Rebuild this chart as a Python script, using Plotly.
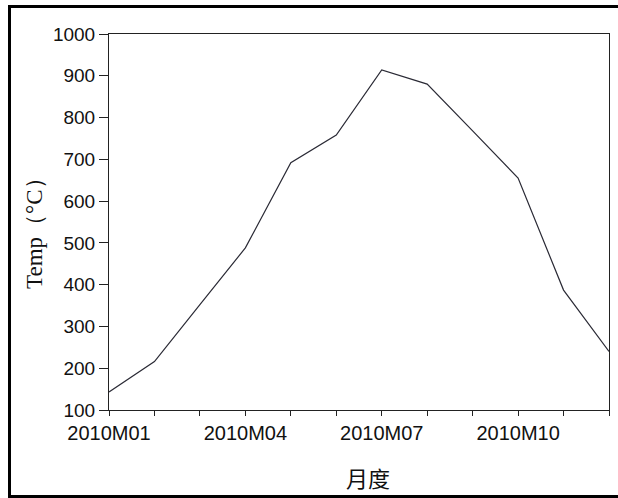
import plotly.graph_objects as go

months = ["2010M01", "2010M02", "2010M03", "2010M04", "2010M05", "2010M06",
          "2010M07", "2010M08", "2010M09", "2010M10", "2010M11", "2010M12"]
temps = [143, 216, 352, 488, 692, 758, 914, 880, 768, 655, 387, 240]
labeled_months = ["2010M01", "2010M04", "2010M07", "2010M10"]
y_ticks = [100, 200, 300, 400, 500, 600, 700, 800, 900, 1000]

W, H = 618, 498
L, R, T, B = 109, 609, 34, 410

def px(x):
    return (x - L) / (R - L)

def py(y):
    return (B - y) / (B - T)

fig = go.Figure()
fig.add_trace(go.Scatter(x=months, y=temps, mode="lines",
                         line=dict(color="#2a2a35", width=1.2),
                         showlegend=False, hoverinfo="skip"))

tick_font = dict(family="Liberation Sans, Arial, sans-serif", size=19, color="#111")

fig.update_layout(
    width=W, height=H,
    margin=dict(l=L, r=W - R, t=T, b=H - B, pad=0),
    paper_bgcolor="white", plot_bgcolor="white",
    xaxis=dict(
        type="category", range=[0, len(months) - 1],
        tickmode="array", tickvals=months,
        ticktext=[m if m in labeled_months else "" for m in months],
        ticks="outside", ticklen=5, tickwidth=1, tickcolor="#222",
        showline=True, linecolor="#222", linewidth=1, mirror=True,
        showgrid=False, zeroline=False,
        tickfont=dict(family="Liberation Sans, Arial, sans-serif", size=20, color="#111"),
    ),
    yaxis=dict(
        range=[100, 1000], tickmode="array", tickvals=y_ticks,
        ticks="outside", ticklen=9, tickwidth=1, tickcolor="#222",
        showline=True, linecolor="#222", linewidth=1, mirror=True,
        showgrid=False, zeroline=False,
        tickfont=tick_font,
    ),
    shapes=[
        dict(type="rect", xref="paper", yref="paper",
             x0=px(9.5), x1=px(630), y0=py(496.5), y1=py(6.5),
             line=dict(color="black", width=3), fillcolor="rgba(0,0,0,0)", layer="above"),
    ],
    annotations=[
        dict(text="Temp（°C）", xref="paper", yref="paper", x=px(34), y=py(228),
             textangle=-90, showarrow=False, xanchor="center", yanchor="middle",
             font=dict(family="Liberation Serif, Times New Roman, serif", size=23, color="#111")),
        dict(text="月度", xref="paper", yref="paper", x=px(368), y=py(477),
             showarrow=False, xanchor="center", yanchor="middle",
             font=dict(family="Noto Sans CJK SC, sans-serif", size=22, color="#111")),
    ],
)

fig.write_html("out.html")
